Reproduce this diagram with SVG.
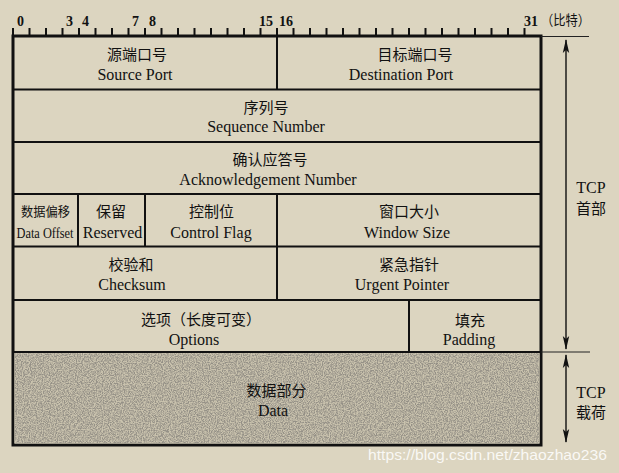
<svg xmlns="http://www.w3.org/2000/svg" width="619" height="473" viewBox="0 0 619 473">
<style>
.cn{font-family:"Noto Sans CJK SC","Noto Sans CJK TC",sans-serif;font-size:15px;fill:#111;text-anchor:middle}
.en{font-family:"Liberation Serif","Times New Roman",serif;font-size:16px;fill:#111;text-anchor:middle}
.num{font-family:"Liberation Serif","Times New Roman",serif;font-size:14px;font-weight:bold;fill:#111}
.ln{stroke:#111;stroke-width:2;fill:none}
.thin{stroke:#222;stroke-width:1;fill:none}
</style>
<defs>
<marker id="ah" viewBox="0 0 14 8" refX="13" refY="4" markerWidth="14" markerHeight="8" markerUnits="userSpaceOnUse" orient="auto-start-reverse">
<path d="M0,0.8 L14,4 L0,7.2 L3,4 Z" fill="#111"/>
</marker>
<filter id="grain" x="0" y="0" width="100%" height="100%">
<feTurbulence type="fractalNoise" baseFrequency="0.85" numOctaves="2" seed="4" result="n"/>
<feColorMatrix in="n" type="matrix" values="0 0 0 0 0.3  0 0 0 0 0.28  0 0 0 0 0.24  0 0 0 -3 1.95"/>
<feComposite in2="SourceGraphic" operator="in"/>
</filter>
</defs>
<rect width="619" height="473" fill="#dcd5c0"/>

<g id="ruler">
<path class="ln" stroke-width="1.3" d="M13,28V36M29.5,28V36M46,28V36M62.5,28V36M79,28V36M95.5,28V36M112,28V36M128.5,28V36M145,28V36M161.5,28V36M178,28V36M194.5,28V36M211,28V36M227.5,28V36M244,28V36M260.5,28V36M277,28V36M293.5,28V36M310,28V36M326.5,28V36M343,28V36M359.5,28V36M376,28V36M392.5,28V36M409,28V36M425.5,28V36M442,28V36M458.5,28V36M475,28V36M491.5,28V36M508,28V36M524.5,28V36"/>
<text class="num" x="17" y="26">0</text>
<text class="num" x="66" y="26">3</text>
<text class="num" x="82" y="26">4</text>
<text class="num" x="132" y="26">7</text>
<text class="num" x="149" y="26">8</text>
<text class="num" x="259" y="26">15</text>
<text class="num" x="279" y="26">16</text>
<text class="num" x="524" y="26">31</text>
<text class="cn" x="541" y="25" style="font-size:14px;text-anchor:start" textLength="49" lengthAdjust="spacingAndGlyphs">（比特）</text>
</g>

<g id="frame">
<rect x="13" y="36" width="528" height="409" fill="none" stroke="#111" stroke-width="3"/>
<path class="ln" d="M13,89.5H541M13,142H541M13,194H541M13,246.5H541M13,300H541"/>
<path class="ln" stroke-width="2.5" d="M13,352H541"/>
</g>

<g id="source-port">
<path class="ln" d="M277,28V89.5"/>
<text class="cn" x="137" y="60">源端口号</text>
<text class="en" x="135" y="80">Source Port</text>
</g>
<g id="destination-port">
<text class="cn" x="415" y="60">目标端口号</text>
<text class="en" x="401" y="80">Destination Port</text>
</g>
<g id="sequence-number">
<text class="cn" x="266" y="113">序列号</text>
<text class="en" x="266" y="132">Sequence Number</text>
</g>
<g id="ack-number">
<text class="cn" x="270" y="165">确认应答号</text>
<text class="en" x="268" y="185">Acknowledgement Number</text>
</g>
<g id="data-offset">
<text class="cn" x="45.5" y="216" style="font-size:13px" textLength="49" lengthAdjust="spacingAndGlyphs">数据偏移</text>
<text class="en" x="45" y="238" style="font-size:15px" textLength="57" lengthAdjust="spacingAndGlyphs">Data Offset</text>
</g>
<g id="reserved">
<path class="ln" d="M78,194V246.5"/>
<text class="cn" x="111" y="217">保留</text>
<text class="en" x="112.5" y="238">Reserved</text>
</g>
<g id="control-flag">
<path class="ln" d="M145,194V246.5"/>
<text class="cn" x="211.5" y="217">控制位</text>
<text class="en" x="211" y="238">Control Flag</text>
</g>
<g id="window-size">
<path class="ln" d="M277,194V246.5"/>
<text class="cn" x="409" y="217">窗口大小</text>
<text class="en" x="407" y="238">Window Size</text>
</g>
<g id="checksum">
<text class="cn" x="131" y="270">校验和</text>
<text class="en" x="132" y="290">Checksum</text>
</g>
<g id="urgent-pointer">
<path class="ln" d="M277,246.5V300"/>
<text class="cn" x="409" y="270">紧急指针</text>
<text class="en" x="402" y="290">Urgent Pointer</text>
</g>
<g id="options">
<text class="cn" x="201" y="325">选项（长度可变）</text>
<text class="en" x="194" y="345">Options</text>
</g>
<g id="padding">
<path class="ln" d="M409,300V352"/>
<text class="cn" x="470" y="326">填充</text>
<text class="en" x="469" y="345">Padding</text>
</g>
<g id="data">
<rect x="14.5" y="353.2" width="525" height="90.3" fill="#cac3ae"/>
<rect x="14.5" y="353.2" width="525" height="90.3" fill="#000" filter="url(#grain)"/>
<text class="cn" x="276.5" y="396">数据部分</text>
<text class="en" x="273" y="416">Data</text>
</g>

<g id="connectors">
<path class="thin" d="M541,36.5H589M541,352H590"/>
<line x1="566" y1="40" x2="566" y2="349" stroke="#111" stroke-width="1.4" marker-start="url(#ah)" marker-end="url(#ah)"/>
<line x1="566" y1="355" x2="566" y2="442" stroke="#111" stroke-width="1.4" marker-start="url(#ah)" marker-end="url(#ah)"/>
</g>
<g id="tcp-header-label">
<text class="en" x="591" y="193">TCP</text>
<text class="cn" x="591" y="214">首部</text>
</g>
<g id="tcp-payload-label">
<text class="en" x="591" y="398">TCP</text>
<text class="cn" x="591" y="418">载荷</text>
</g>
<g id="watermark">
<text x="368" y="460" style="font-family:'Liberation Sans',Arial,sans-serif;font-size:14.5px;fill:#ffffff;fill-opacity:0.85" textLength="239" lengthAdjust="spacingAndGlyphs">https://blog.csdn.net/zhaozhao236</text>
</g>
</svg>
